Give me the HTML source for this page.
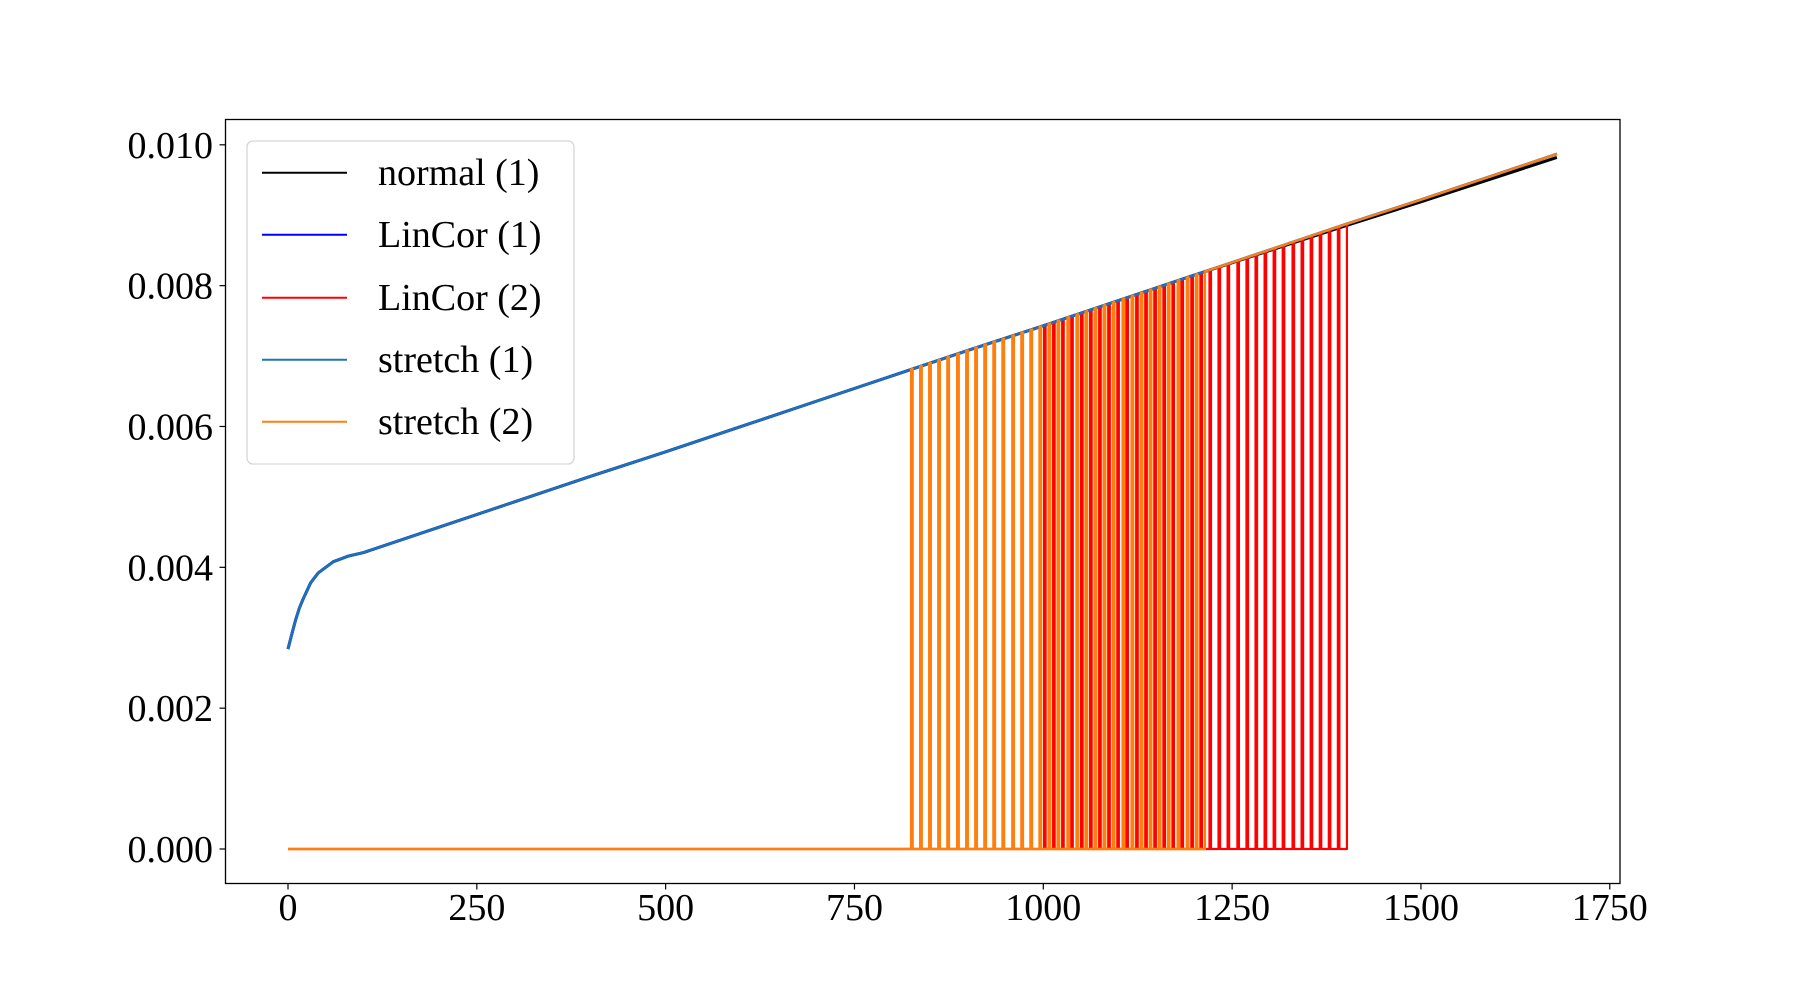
<!DOCTYPE html>
<html><head><meta charset="utf-8">
<style>
html,body{margin:0;padding:0;background:#fff;}
svg{display:block;}
text{font-family:"Liberation Serif",serif;fill:#000;}
</style></head>
<body>
<svg id="chart" width="1800" height="993" viewBox="0 0 1800 993">
  <rect x="0" y="0" width="1800" height="993" fill="#fff"/>
  <g id="series"></g>
  <rect x="225.5" y="119.5" width="1394.5" height="764" fill="none" stroke="#000" stroke-width="1.3"/>
  <g id="xticks"></g>
  <g id="yticks"></g>
  <g>
    <rect x="247" y="141" width="327" height="323" rx="6" fill="#fff" fill-opacity="0.8" stroke="#d6d6d6" stroke-width="1.3"/>
    <g><line x1="262" x2="347" y1="172.7" y2="172.7" stroke="#000" stroke-width="2"/><text x="378" y="185" font-size="38">normal (1)</text></g>
    <g><line x1="262" x2="347" y1="234.7" y2="234.7" stroke="#0000ff" stroke-width="2"/><text x="378" y="247" font-size="38">LinCor (1)</text></g>
    <g><line x1="262" x2="347" y1="297.7" y2="297.7" stroke="#ff0000" stroke-width="2"/><text x="378" y="310" font-size="38">LinCor (2)</text></g>
    <g><line x1="262" x2="347" y1="359.7" y2="359.7" stroke="#1f77b4" stroke-width="2"/><text x="378" y="372" font-size="38">stretch (1)</text></g>
    <g><line x1="262" x2="347" y1="421.7" y2="421.7" stroke="#ff7f0e" stroke-width="2"/><text x="378" y="434" font-size="38">stretch (2)</text></g>
  </g>
</svg>
<script>
const curveX = [0,5,10,15,20,30,40,50,60,80,100,200,300,400,500,600,700,800,900,1000,1100,1200,1300,1400,1500,1600,1680];
const stretchVals = [0.00284,0.00305,0.00325,0.00342,0.00355,0.00378,0.00392,0.00400,0.00408,0.00416,0.00421,0.00457,0.00493,0.00529,0.00564,0.00600,0.00636,0.00672,0.00708,0.00743,0.00779,0.00815,0.00851,0.00887,0.00922,0.00958,0.00987];
const normalVals = [0.00284,0.00305,0.00325,0.00342,0.00355,0.00378,0.00392,0.00400,0.00408,0.00416,0.00421,0.00457,0.00493,0.00529,0.00564,0.00600,0.00636,0.00672,0.00708,0.00743,0.00779,0.00815,0.00850,0.00885,0.00919,0.00954,0.00982];
const stretch2Spikes = [825,837,849,861,873,886,898,910,922,934,946,959,971,983,995,1007,1019,1032,1044,1056,1068,1080,1092,1105,1117,1129,1141,1153,1165,1178,1190,1202,1214];
const stretch2End = 1214;
const lincor2Spikes = [1001,1013,1025,1037,1050,1062,1074,1086,1098,1110,1123,1135,1147,1159,1171,1183,1196,1208,1220,1232,1244,1257,1269,1281,1293,1305,1317,1330,1342,1354,1366,1378,1390,1402];
const lincor2End = 1402;
const xTickVals = [0,250,500,750,1000,1250,1500,1750];
const yTickVals = [0,0.002,0.004,0.006,0.008,0.010];
const yTickLabels = ["0.000","0.002","0.004","0.006","0.008","0.010"];

const NS = "http://www.w3.org/2000/svg";
function sx(v){ return 288 + v*0.7553; }
function sy(v){ return 849 - v*70420; }
function curveAt(x){
  for(let i=0;i<curveX.length-1;i++){
    if(x<=curveX[i+1]){ const t=(x-curveX[i])/(curveX[i+1]-curveX[i]); return stretchVals[i]+t*(stretchVals[i+1]-stretchVals[i]); }
  }
  return stretchVals[stretchVals.length-1];
}
const seriesG = document.getElementById('series');
function addPath(pts, color, name, w){
  const p = document.createElementNS(NS,'polyline');
  p.setAttribute('points', pts.map(q=>sx(q[0]).toFixed(2)+','+sy(q[1]).toFixed(2)).join(' '));
  p.setAttribute('fill','none'); p.setAttribute('stroke',color); p.setAttribute('stroke-width', w||2.6);
  p.setAttribute('stroke-linejoin','round');
  
  
  seriesG.appendChild(p);
}
function spikeSeries(spikes, end){
  const pts=[[0,0]];
  spikes.forEach((s,i)=>{
    if(i<spikes.length-1){ pts.push([s,0]); pts.push([s,curveAt(s)]); pts.push([s+2,curveAt(s+2)]); pts.push([s+2,0]); }
  });
  pts.push([end,0]); pts.push([end,curveAt(end)]);
  curveX.forEach((x,i)=>{ if(x>end) pts.push([x,stretchVals[i]]); });
  return pts;
}
addPath(curveX.map((x,i)=>[x,normalVals[i]]), '#000000', 'normal-1-line', 3);
addPath(curveX.map((x,i)=>[x,stretchVals[i]]), '#0000ff', 'lincor-1-line');
addPath(spikeSeries(lincor2Spikes, lincor2End), '#ff0000', 'lincor-2-line', 2.2);
addPath(curveX.map((x,i)=>[x,stretchVals[i]]), '#1f6fbf', 'stretch-1-line', 2.8);
addPath(spikeSeries(stretch2Spikes, stretch2End), '#ff7f0e', 'stretch-2-line', 2.4);

const xg=document.getElementById('xticks');
xTickVals.forEach(v=>{
  const l=document.createElementNS(NS,'line');
  l.setAttribute('x1',sx(v)); l.setAttribute('x2',sx(v)); l.setAttribute('y1',884); l.setAttribute('y2',889.5);
  l.setAttribute('stroke','#000'); l.setAttribute('stroke-width',1.2);
  
  
  xg.appendChild(l);
  const t=document.createElementNS(NS,'text');
  t.setAttribute('x',sx(v)); t.setAttribute('y',920); t.setAttribute('font-size',38); t.setAttribute('text-anchor','middle');
  t.textContent=String(v);
  
  
  xg.appendChild(t);
});
const yg=document.getElementById('yticks');
yTickVals.forEach((v,i)=>{
  const l=document.createElementNS(NS,'line');
  l.setAttribute('x1',219.5); l.setAttribute('x2',225.5); l.setAttribute('y1',sy(v)); l.setAttribute('y2',sy(v));
  l.setAttribute('stroke','#000'); l.setAttribute('stroke-width',1.2);
  
  
  yg.appendChild(l);
  const t=document.createElementNS(NS,'text');
  t.setAttribute('x',213); t.setAttribute('y',sy(v)+13); t.setAttribute('font-size',38); t.setAttribute('text-anchor','end');
  t.textContent=yTickLabels[i];
  
  
  yg.appendChild(t);
});
</script>
</body></html>
